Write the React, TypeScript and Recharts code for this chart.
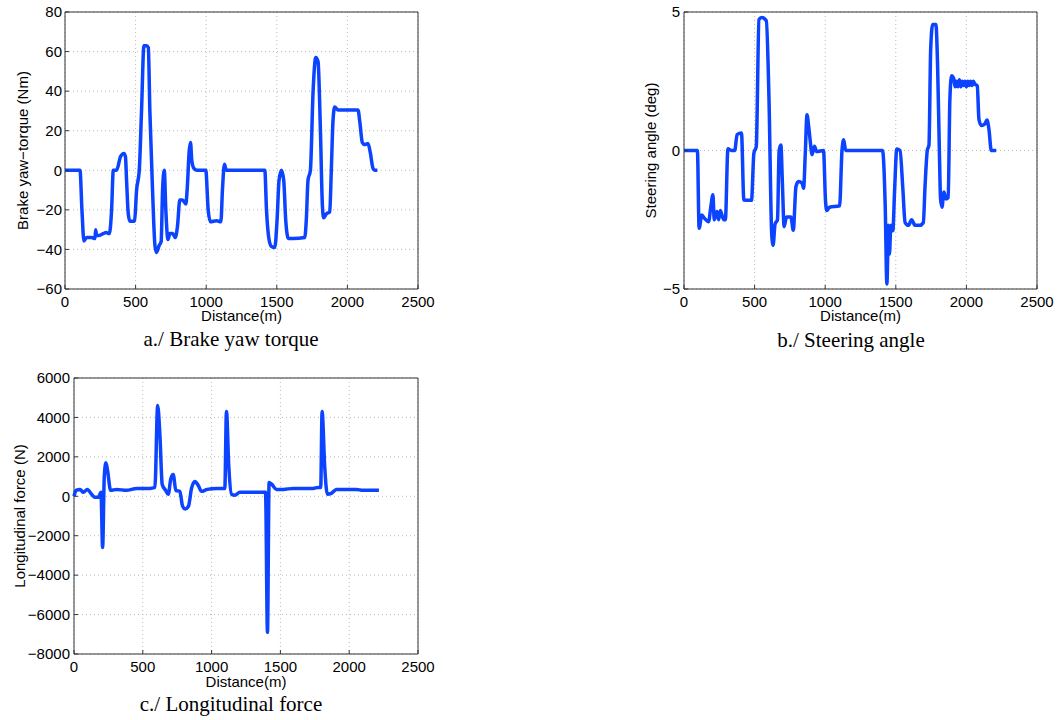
import React from 'react';
import { LineChart, Line, XAxis, YAxis, CartesianGrid, ReferenceArea } from 'recharts';

const distTicks = [0, 500, 1000, 1500, 2000, 2500];
const torqueTicks = [-60, -40, -20, 0, 20, 40, 60, 80];
const steerTicks = [-5, 0, 5];
const forceTicks = [-8000, -6000, -4000, -2000, 0, 2000, 4000, 6000];

// a./ brake yaw torque (Nm)
const torqueDist = [0, 106, 120, 134, 153, 190, 212, 217, 224, 236, 271, 290, 314, 330, 342, 365, 394, 417, 428, 436, 448, 460, 480, 493, 507, 526, 542, 559, 578, 590, 601, 620, 637, 648, 667, 681, 691, 703, 714, 729, 743, 762, 781, 797, 813, 832, 856, 865, 880, 889, 898, 913, 936, 997, 1014, 1030, 1073, 1104, 1115, 1129, 1143, 1415, 1427, 1445, 1462, 1486, 1502, 1516, 1533, 1549, 1563, 1582, 1615, 1698, 1709, 1721, 1738, 1757, 1776, 1792, 1809, 1823, 1832, 1851, 1875, 1886, 1898, 1910, 1934, 2075, 2087, 2106, 2122, 2146, 2162, 2181, 2193, 2212];
const torqueVal = [0, 0, -20, -35.7, -34, -34, -34.5, -30, -33, -33, -32, -31.5, -32, -20, 0, 0, 7, 8.5, 7, -5, -22, -25.8, -25.8, -25.5, -10, 0, 30, 63, 63, 62, 30, -10, -38, -41.5, -38, -36, -10, 0, -20, -35, -32, -32, -34, -28, -15, -15, -17, -10, 10, 14, 5, 1, 0, 0, -20, -26, -25.5, -26, -10, 3, 0, 0, -20, -35, -38.5, -39, -25, -5, 0, -5, -25, -34.5, -34.5, -34, -25, -5, 0, 40, 57, 55, 20, -18, -24, -22, -21, 0, 25, 32, 30.5, 30.5, 25, 14, 13, 13.5, 9, 1, 0, 0];

// b./ steering angle (deg)
const steerDist = [0, 95, 107, 126, 145, 174, 190, 205, 214, 233, 245, 257, 281, 293, 311, 336, 359, 376, 407, 424, 459, 478, 495, 512, 531, 550, 583, 602, 621, 631, 645, 662, 674, 686, 697, 709, 726, 757, 774, 793, 811, 836, 847, 859, 871, 883, 893, 907, 924, 940, 988, 1002, 1011, 1031, 1102, 1119, 1131, 1145, 1406, 1425, 1437, 1448, 1455, 1465, 1479, 1491, 1507, 1530, 1549, 1566, 1589, 1612, 1636, 1671, 1695, 1707, 1723, 1735, 1747, 1761, 1784, 1796, 1808, 1817, 1827, 1841, 1855, 1871, 1883, 1895, 1910, 1920, 1930, 1940, 1950, 1960, 1970, 1980, 1990, 2000, 2010, 2020, 2030, 2040, 2050, 2060, 2077, 2089, 2106, 2129, 2146, 2160, 2176, 2211];
const steerVal = [0, 0, -2.81, -2.33, -2.45, -2.57, -2.03, -1.6, -2.5, -2.2, -2.5, -2.17, -2.5, -2.5, 0.06, 0, 0, 0.57, 0.63, -1.79, -1.8, -1.8, -0.1, 0.15, 4.73, 4.8, 4.68, 1.84, -3.0, -3.42, -2.65, -2.5, 0, 0.2, -1.2, -2.75, -2.4, -2.4, -2.88, -1.3, -1.12, -1.18, -1.36, -0.1, 1.29, 0.87, 0.39, -0.15, 0.15, -0.04, 0, -1.8, -2.17, -2.05, -2.0, 0, 0.39, 0, 0, -2.0, -4.82, -2.7, -3.74, -2.7, -2.9, -1.5, 0.05, 0, -1.3, -2.6, -2.7, -2.5, -2.7, -2.7, -2.6, -1.3, 0, 0.2, 3.65, 4.55, 4.55, 3.05, 0.15, -1.75, -2.05, -1.5, -1.75, -1.7, 1.85, 2.7, 2.6, 2.3, 2.5, 2.3, 2.55, 2.3, 2.5, 2.35, 2.5, 2.3, 2.5, 2.35, 2.5, 2.35, 2.5, 2.4, 2.33, 1.12, 0.9, 0.95, 1.1, 0.75, 0, 0];

// c./ longitudinal force (N)
const forceDist = [0, 15, 44, 68, 97, 128, 152, 177, 196, 208, 220, 232, 244, 266, 310, 382, 455, 552, 588, 608, 625, 641, 666, 685, 704, 721, 740, 769, 789, 808, 832, 854, 879, 903, 927, 968, 1036, 1096, 1108, 1125, 1145, 1169, 1205, 1302, 1392, 1406, 1418, 1438, 1472, 1520, 1593, 1738, 1774, 1793, 1803, 1822, 1841, 1870, 1907, 2052, 2100, 2216];
const forceVal = [0, 300, 350, 200, 350, 100, -50, -50, 200, -2600, 1000, 1700, 1300, 300, 350, 300, 400, 400, 450, 4600, 3000, 600, 300, 100, 900, 1100, 300, 250, -500, -650, -500, 400, 750, 550, 250, 350, 400, 400, 4300, 1500, 100, 50, 200, 200, 200, -6900, 700, 600, 350, 350, 400, 400, 450, 450, 4300, 1500, 100, 150, 350, 350, 300, 300];

const torqueData = torqueDist.map((d, i) => ({ d, v: torqueVal[i] }));
const steerData = steerDist.map((d, i) => ({ d, v: steerVal[i] }));
const forceData = forceDist.map((d, i) => ({ d, v: forceVal[i] }));

const BLUE = '#0b43ff';
const SANS = '"Liberation Sans", Arial, Helvetica, sans-serif';
const tickStyle = { fill: '#000', fontSize: 15, fontFamily: SANS };
const minus = (v: number) => String(v).replace('-', '\u2212');

type PanelProps = {
  data: { d: number; v: number }[];
  yTicks: number[];
  yLabel: string;
  left: number;
  top: number;
  width: number;
  height: number;
  margin: { top: number; right: number; bottom: number; left: number };
  yAxisWidth: number;
  xAxisHeight: number;
  yLabelOffset: number;
  yTickMargin: number;
};

function Panel(p: PanelProps) {
  const lo = p.yTicks[0];
  const hi = p.yTicks[p.yTicks.length - 1];
  return (
    <div style={{ position: 'absolute', left: p.left, top: p.top }}>
      <LineChart width={p.width} height={p.height} data={p.data} margin={p.margin} style={{ fontFamily: SANS }}>
        <CartesianGrid stroke="#bbb" strokeDasharray="1 3" horizontalValues={p.yTicks} verticalValues={distTicks} />
        <XAxis
          dataKey="d"
          type="number"
          domain={[0, 2500]}
          ticks={distTicks}
          interval={0}
          height={p.xAxisHeight}
          tickSize={-4}
          tickMargin={11}
          axisLine={false}
          tickLine={{ stroke: '#333' }}
          tick={tickStyle}
          label={{ value: 'Distance(m)', position: 'insideBottom', offset: 0, style: { fill: '#000', fontSize: 15, fontFamily: SANS } }}
        />
        <YAxis
          type="number"
          domain={[lo, hi]}
          ticks={p.yTicks}
          interval={0}
          width={p.yAxisWidth}
          tickSize={-4}
          tickMargin={p.yTickMargin}
          axisLine={false}
          tickLine={{ stroke: '#333' }}
          tick={tickStyle}
          tickFormatter={minus}
          label={{ value: p.yLabel, angle: -90, position: 'insideLeft', offset: p.yLabelOffset, style: { textAnchor: 'middle', fill: '#000', fontSize: 15, fontFamily: SANS } }}
        />
        <ReferenceArea x1={0} x2={2500} y1={lo} y2={hi} fill="none" stroke="#333" strokeWidth={1} />
        <Line dataKey="v" type="monotone" stroke={BLUE} strokeWidth={3.5} dot={false} isAnimationActive={false} strokeLinejoin="round" />
      </LineChart>
    </div>
  );
}

const captionStyle: React.CSSProperties = {
  position: 'absolute',
  fontFamily: '"Liberation Serif", "Times New Roman", serif',
  fontSize: 21,
  color: '#000',
  transform: 'translate(-50%, -50%)',
  whiteSpace: 'nowrap',
};

export default function App() {
  return (
    <div style={{ position: 'absolute', left: 0, top: 0, width: 1060, height: 720, background: '#fff' }}>
      <Panel
        data={torqueData}
        yTicks={torqueTicks}
        yLabel="Brake yaw−torque (Nm)"
        left={0}
        top={0}
        width={445}
        height={345}
        margin={{ top: 12, right: 27, bottom: 24, left: 0 }}
        yAxisWidth={65}
        xAxisHeight={32}
        yLabelOffset={23}
        yTickMargin={7}
      />
      <Panel
        data={steerData}
        yTicks={steerTicks}
        yLabel="Steering angle (deg)"
        left={630}
        top={0}
        width={430}
        height={345}
        margin={{ top: 12, right: 23, bottom: 24, left: 0 }}
        yAxisWidth={54}
        xAxisHeight={32}
        yLabelOffset={21}
        yTickMargin={8}
      />
      <Panel
        data={forceData}
        yTicks={forceTicks}
        yLabel="Longitudinal force (N)"
        left={0}
        top={365}
        width={445}
        height={330}
        margin={{ top: 13, right: 27, bottom: 8, left: 0 }}
        yAxisWidth={74}
        xAxisHeight={33}
        yLabelOffset={20}
        yTickMargin={8}
      />
      <div style={{ ...captionStyle, left: 231, top: 339 }}>a./ Brake yaw torque</div>
      <div style={{ ...captionStyle, left: 851, top: 340 }}>b./ Steering angle</div>
      <div style={{ ...captionStyle, left: 231, top: 704 }}>c./ Longitudinal force</div>
    </div>
  );
}
